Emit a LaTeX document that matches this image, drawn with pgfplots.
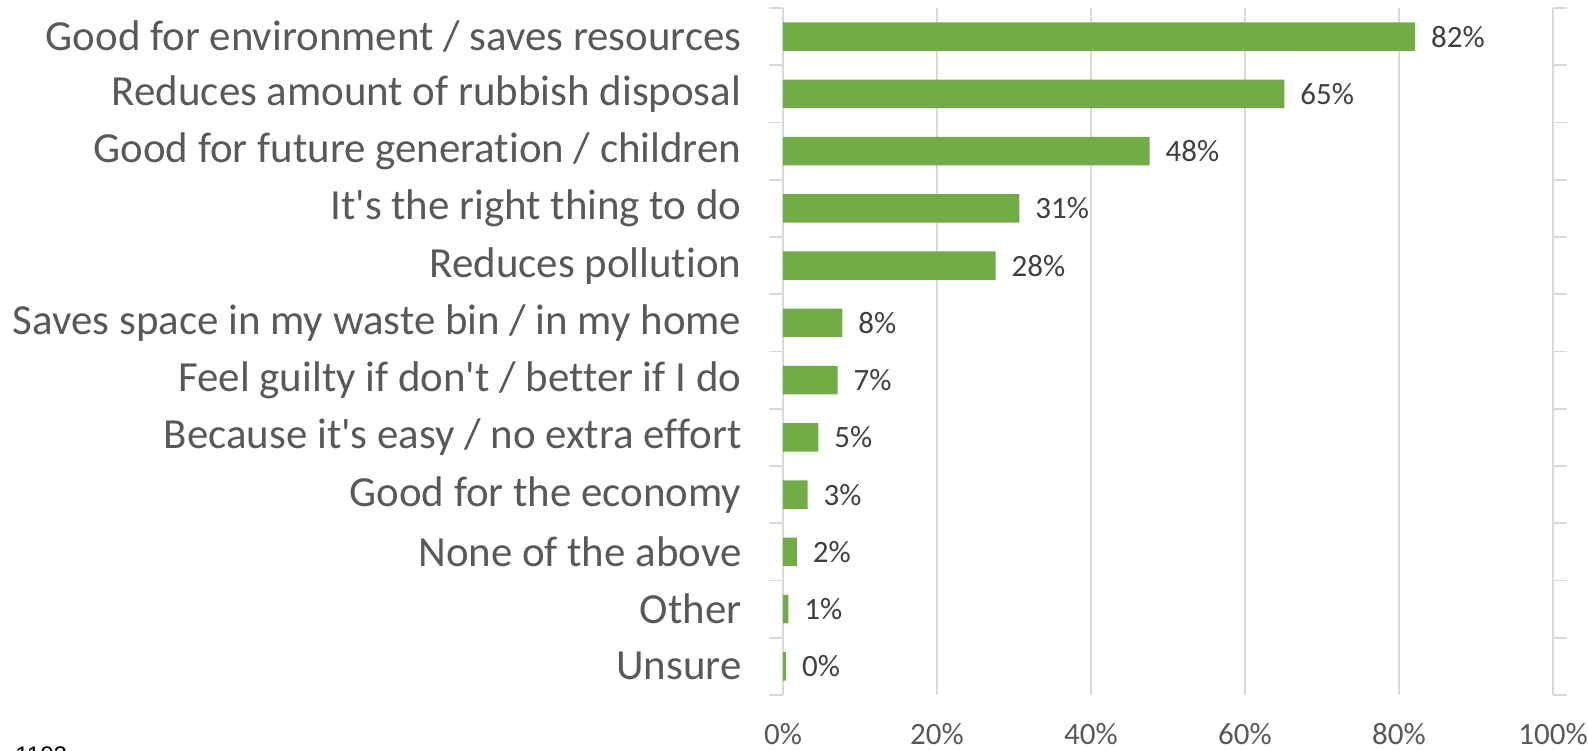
\documentclass[border=0pt]{standalone}
\usepackage{pgfplots}
\pgfplotsset{compat=1.18}
\usepackage{fontspec}
\setmainfont{Carlito}[Ligatures={NoCommon}]
\newfontfamily\arialfont{Liberation Sans}
\definecolor{bargreen}{HTML}{70AD47}
\definecolor{labgray}{HTML}{595959}
\definecolor{datagray}{HTML}{404040}
\definecolor{gridgray}{HTML}{D9D9D9}
\begin{document}
\begin{tikzpicture}
\begin{axis}[
  name=ax,
  scale only axis,
  width=385pt, height=343.5pt,
  xmin=0, xmax=100,
  ymin=-0.5, ymax=11.5,
  y dir=reverse,
  xbar, bar width=0.5,
  axis line style={draw=none},
  /pgf/number format/assume math mode=true,
  xtick={0,20,40,60,80,100},
  xticklabels={0\%,20\%,40\%,60\%,80\%,100\%},
  xmajorgrids, grid style={gridgray, line width=0.8pt},
  major x tick style={draw=none},
  xticklabel style={font=\fontsize{15.5pt}{18pt}\selectfont, text=labgray, inner sep=0pt, yshift=-9.5pt},
  ytick={0,...,11},
  yticklabels={Good for environment / saves resources, Reduces amount of rubbish disposal\ , Good for future generation / children, It\textquotesingle s the right thing to do, Reduces pollution, Saves space in my waste bin / in my home, Feel guilty if don\textquotesingle t / better if I do, Because it\textquotesingle s easy / no extra effort, Good for the economy, None of the above, Other, Unsure},
  major y tick style={draw=none},
  minor ytick={-0.5,0.5,...,11.5},
  minor y tick style={gridgray, line width=0.8pt},
  minor tick length=7pt,
  tick align=outside,
  yticklabel style={font=\fontsize{21.45pt}{24pt}\selectfont, text=labgray, anchor=east, xshift=-13pt},
  nodes near coords={\pgfmathprintnumber[fixed,precision=0,assume math mode=true]{\pgfplotspointmeta}\%},
  point meta=x,
  nodes near coords style={font=\fontsize{15.5pt}{18pt}\selectfont, text=datagray, anchor=west, xshift=4.5pt},
  clip=false,
]
\addplot[fill=bargreen, draw=none] coordinates {
(82.1,0) (65.1,1) (47.6,2) (30.7,3) (27.6,4) (7.7,5) (7.1,6) (4.6,7) (3.2,8) (1.8,9) (0.7,10) (0.4,11)
};
\end{axis}
\node[anchor=north west, inner sep=0pt, font=\arialfont\fontsize{12pt}{14pt}\selectfont] at ([xshift=-384pt, yshift=-25.5pt]ax.south west) {1102};
\pgfresetboundingbox
\path ([xshift=-391.5pt, yshift=-27.5pt]ax.south west) rectangle ([xshift=17.5pt, yshift=4pt]ax.north east);
\end{tikzpicture}
\end{document}
